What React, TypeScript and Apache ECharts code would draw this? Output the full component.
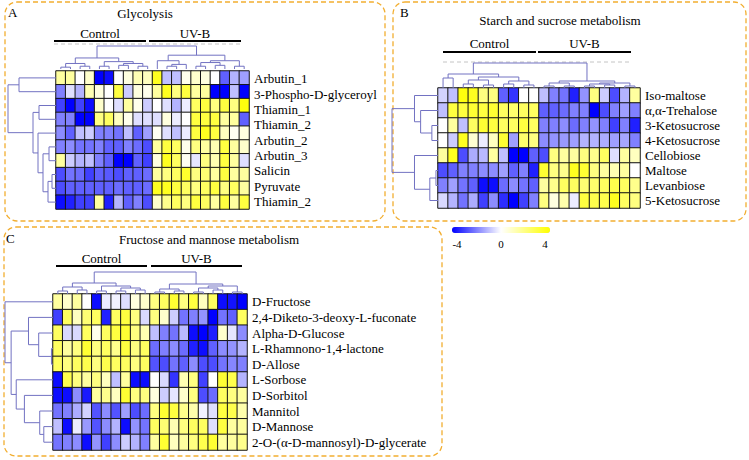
import React, { useEffect, useRef } from "react";
import * as echarts from "echarts";

const FONT = "Liberation Serif, Times New Roman, serif";
const DENDRO = "#7272C2";
const BOX = "#F2AE30";

// ---------- samples ----------
const controlSamples = ["C1", "C2", "C3", "C4", "C5", "C6", "C7", "C8", "C9", "C10"];
const uvbSamples = ["U1", "U2", "U3", "U4", "U5", "U6", "U7", "U8", "U9", "U10"];
const groupNames = ["Control", "UV-B"];

// ---------- legend ----------
const scaleMin = -4;
const scaleMax = 4;
const legendTicks = [-4, 0, 4];

// ---------- A: Glycolysis ----------
const glycolysisLabels = [
  "Arbutin_1", "3-Phospho-D-glyceroyl", "Thiamin_1", "Thiamin_2", "Arbutin_2",
  "Arbutin_3", "Salicin", "Pyruvate", "Thiamin_2",
];
const glycolysisValues = [
  [1.5, 1.5, 0, 0.8, -4, -3.8, 0, 0.5, 1.2, 1, 3.5, -1, -1, 0.3, 0.8, 0.5, 0, -2.5, -1.2, -1.5],
  [-2, -0.5, -1.2, 1.2, 0.5, 0, 3, -0.8, 0.5, 0.3, 1.5, 3.5, 2, 3, 1.5, 1.5, -4, -4, -1, -4],
  [-3, -4, -3, -3.8, 0.8, 0, -0.5, 1.5, 0.3, -0.8, 0, -0.5, -1.2, -0.3, 2.5, 3, 2, 3, 2, 3.8],
  [-2, -2, -4, -4, 2, 2.5, 1, 0.3, -0.5, -0.5, -0.5, 0.5, -0.3, 0, 3, 3, 3, 1.5, 1.5, -2.5],
  [-1.8, -2.5, -1, -0.8, -2, -2, -2.2, -1, -2.5, -1.5, 0.2, -0.5, -1, -0.3, 3, 3.5, 3, 1, 0.2, 0.5],
  [-2, -1.8, -2.2, -2.2, -2, -2.5, -2.5, -2, -2.3, -2.8, 1.5, 3, 2.5, 0.3, 2, 1.5, 1.2, 3, 1.5, 0.8],
  [1.5, -0.8, -1.2, -1, -2, -2.5, -4, -4, -2.5, -3, 0.5, 3.5, 2.5, 0.2, -0.4, 2, 1.2, 3, 1.5, -0.5],
  [-2.8, -2.2, -2.3, -3, -2.5, -2.6, -2.8, -2.5, -2.5, -2.3, 1.5, 2, 2.5, 3.3, 2, 2.2, 1.5, 3, 1.5, 1.5],
  [-2.8, -2.5, -2.5, -2.5, -2.5, -2.5, -2.3, -2.5, -2.5, -2.3, 3.5, 3.5, 3, 2.5, 2, 2.5, 3, 2, 2.5, 1.5],
  [-3.8, -3.5, -3, -3, 1.5, -3.5, -1.2, -2.5, -2, -2.8, 0.8, 1.8, 2.5, 2, 3, 2.5, 1.5, 3, 1.5, 3],
];
// linkage: [childA, childB, height]
const glycolysisRowTree = [
  [0, 1, 37], [2, 3, 17], [7, 8, 4], [12, 9, 8], [5, 6, 7], [14, 13, 13],
  [4, 15, 18], [11, 16, 23], [10, 17, 48],
];
const glycolysisColTree = [
  [0, 1, 2], [2, 3, 3], [20, 21, 6], [4, 5, 3], [6, 7, 4], [8, 9, 3], [24, 25, 6],
  [23, 26, 8], [22, 27, 12],
  [11, 12, 3], [29, 13, 5], [10, 30, 9], [14, 15, 3], [16, 17, 4], [32, 33, 7],
  [18, 19, 3], [34, 35, 9], [31, 36, 15], [28, 37, 25],
];

// ---------- B: Starch and sucrose ----------
const starchLabels = [
  "Iso-maltose", "α,α-Trehalose", "3-Ketosucrose", "4-Ketosucrose",
  "Cellobiose", "Maltose", "Levanbiose", "5-Ketosucrose",
];
const starchValues = [
  [-0.7, -1, 3.8, 3.5, 2, 2, -2.5, -3.2, 0, 0, -1, -2, -2.2, -3.5, -1.7, 2, -0.8, -2.8, -1.2, 1.5],
  [-1, 3, 3, 3.2, 3, 3.2, 2.5, 2.3, 2.5, 2.5, -2.5, -2.5, -2.3, -2, -2, -4, -2.8, -2, -1.5, -2],
  [0, 1.5, -1, 2.5, 3.2, 3, 2.5, 2.5, 3, 2.5, -2, -2, -1.8, -2.3, -2, -1.7, -2, -3, -2, -3.5],
  [0, -0.8, 3.5, 0.7, -0.3, 1, 3.2, -1.5, 2.3, 2, -1.8, -1.7, -1.6, -1.5, -1.2, -1.2, -1.3, -1.5, -1.4, -2],
  [1.5, 3.5, -2.8, -1.3, -1.1, 1.5, -1, -4, -4, -2.5, -2.8, 2, 1.5, 1.5, 2, 1.8, 2.5, -0.5, 1.5, 1],
  [-2.8, -2.5, -2, -2, -1.8, -1.8, -1.5, -2.5, -2, -3.5, 3.2, 2, 1.8, 3.5, 3.2, 2, 1.5, 1.2, 1.5, 0],
  [-2, -1.5, -2.2, -2.5, -3.8, -3.8, -2.3, -1.8, -2.2, -2.5, 1.5, 1.8, 2.5, 2.5, 2.2, 2.3, 2.5, 2.8, 2.5, 1.8],
  [-0.6, -1.2, -2.2, -1.3, -3, -1.8, -3.3, -4, -3, -2, 2, 0.5, 1.3, -0.3, 3, 2.8, 2.8, 3.5, 2.5, 2],
];
const starchRowTree = [
  [2, 3, 6], [1, 8, 17], [0, 9, 23], [5, 6, 2], [11, 7, 8], [4, 12, 23], [10, 13, 45],
];
const starchColTree = [
  [0, 1, 10], [2, 3, 4], [4, 5, 3], [21, 22, 8], [6, 7, 4], [8, 9, 3], [24, 25, 7],
  [23, 26, 11], [20, 27, 14],
  [10, 11, 2], [12, 13, 2], [29, 30, 5], [14, 15, 2], [16, 17, 3], [32, 33, 4],
  [18, 19, 2], [34, 35, 5], [31, 36, 7], [28, 37, 25],
];

// ---------- C: Fructose and mannose ----------
const fructoseLabels = [
  "D-Fructose", "2,4-Diketo-3-deoxy-L-fuconate", "Alpha-D-Glucose", "L-Rhamnono-1,4-lactone",
  "D-Allose", "L-Sorbose", "D-Sorbitol", "Mannitol", "D-Mannose", "2-O-(α-D-mannosyl)-D-glycerate",
];
const fructoseValues = [
  [1.5, 0.8, 1.5, 0, -3.8, -0.3, -0.2, -0.5, 0.5, 0.8, 2, 2.5, 3.2, 2, 3, 1, 2.5, -3.8, -3.7, -4],
  [-3, 2.5, 1, 2.2, 2.5, -3.5, 2.5, 3, 2, -0.6, 2, 0.8, -0.8, -2.2, -2, -1.7, -4, -2.2, -2.5, 2.5],
  [2.5, -0.6, -0.6, 2.5, 0.3, 2.5, 3, 3.2, 2, 1.2, -1, -2, -2.2, -1.1, -3.8, -4, -3.5, 0.8, -0.4, -1.8],
  [2.5, 1.5, 2, 3.2, 2, 2.5, 1.8, 3, 2, 2.5, -2.3, -2, -1.8, -2.3, -3.5, -3.8, -2.5, -1.8, -1.7, -1.2],
  [2.5, 2, 2.5, 2.8, 2, 2.8, 2.5, 2.5, 2, 2.5, -2.7, -2.8, -2.2, -2.5, -1.8, -2.8, -2.8, -2.2, -1.9, -2],
  [-3.8, 2.8, 2, 1.5, 2, 1, -1, 1.5, -3.8, -3.8, 0, -0.6, -3.2, 1.2, 2, -3, 0, 3.2, 2.8, -1.2],
  [-3.8, -3.8, -1.8, -3.6, 1.5, 1.8, 1, 3.2, 2, 2, 0.5, -0.8, -0.4, 0.8, 2, -2.8, -2.3, 2.5, 2, 1.5],
  [-2.2, -2, -1.3, -0.7, -2.7, -1.8, -2.7, -1.5, -2.8, -2.3, 2, 3.2, 3, 1.8, 1.3, -0.2, -0.5, 3, 2.8, 1.3],
  [-1, -3.8, -0.3, -1.6, -2.7, -1.8, -1.2, -3.8, -1.7, -2.2, 2.5, 2.2, 1.2, 2, 2.5, 2.5, -0.5, 3, 1.5, 1.5],
  [-2.2, -2, -1.8, -3.8, -1.7, -3, -1.8, -0.8, -1.2, -2, 1.5, 3.2, 1, 1.5, 2, 2.8, 3.2, 1.5, 1.5, 1.8],
];
const fructoseRowTree = [
  [3, 4, 1.5], [2, 10, 14], [1, 11, 24], [8, 9, 9], [7, 13, 13], [6, 14, 28],
  [5, 15, 36], [12, 16, 41], [0, 17, 47],
];
const fructoseColTree = [
  [0, 1, 3], [2, 3, 4], [20, 21, 7], [4, 5, 3], [6, 7, 3], [8, 9, 4], [24, 25, 6],
  [23, 26, 8], [22, 27, 11],
  [10, 11, 2], [12, 13, 3], [29, 30, 5], [14, 15, 2], [16, 17, 4], [32, 33, 6],
  [18, 19, 2], [34, 35, 8], [31, 36, 10], [28, 37, 22],
];

// ---------- layout (pixels) ----------
const panels = [
  {
    letter: "A", title: "Glycolysis", labels: glycolysisLabels, values: glycolysisValues,
    rowTree: glycolysisRowTree, colTree: glycolysisColTree,
    box: [5, 2, 380, 219], letterPos: [8, 12], titlePos: [145, 13],
    heat: { left: 56, top: 71, width: 193, height: 138 },
    colDendro: { top: 46, height: 23 }, rowDendroLeft: 8,
    groupBar: { x: 54, width: 92, gap: 3, lineY: 41, textY: 33 }, dashY: 44,
  },
  {
    letter: "B", title: "Starch and sucrose metabolism", labels: starchLabels, values: starchValues,
    rowTree: starchRowTree, colTree: starchColTree,
    box: [393, 2, 353, 219], letterPos: [400, 12], titlePos: [560, 20],
    heat: { left: 438, top: 88, width: 202, height: 120 },
    colDendro: { top: 63, height: 25 }, rowDendroLeft: 392,
    groupBar: { x: 443, width: 93, gap: 2, lineY: 52, textY: 43 }, dashY: 62,
  },
  {
    letter: "C", title: "Fructose and mannose metabolism", labels: fructoseLabels, values: fructoseValues,
    rowTree: fructoseRowTree, colTree: fructoseColTree,
    box: [4, 227, 438, 229], letterPos: [6, 238], titlePos: [209, 239],
    heat: { left: 53, top: 294, width: 194, height: 156 },
    colDendro: { top: 272, height: 22 }, rowDendroLeft: 5,
    groupBar: { x: 56, width: 91, gap: 4, lineY: 266, textY: 258 }, dashY: null as number | null,
  },
];

const legendBar = { left: 452, top: 227, length: 98, thickness: 6, inset: 5, labelY: 244 };

function linkSegments(n: number, merges: number[][]) {
  const pos: number[] = Array.from({ length: n }, (_, i) => i);
  const h: number[] = new Array(n).fill(0);
  const segs: number[][] = [];
  merges.forEach(([a, b, hh]) => {
    segs.push([pos[a], h[a], pos[b], h[b], hh]);
    pos.push((pos[a] + pos[b]) / 2);
    h.push(hh);
  });
  return segs;
}

function dendroRender(orient: "col" | "row") {
  return (_params: any, api: any) => {
    const pa = api.value(0), ha = api.value(1), pb = api.value(2), hb = api.value(3), hh = api.value(4);
    const P = (p: number, hg: number) => (orient === "col" ? api.coord([p, hg]) : api.coord([hg, p]));
    return {
      type: "polyline",
      shape: { points: [P(pa, ha), P(pa, hh), P(pb, hh), P(pb, hb)] },
      style: { stroke: DENDRO, fill: null, lineWidth: 1 },
      silent: true,
    };
  };
}

const txt = (size: number) => ({ fontFamily: FONT, fontSize: size, fill: "#000" });

export default function App() {
  const ref = useRef<HTMLDivElement>(null);
  useEffect(() => {
    if (!ref.current) return;
    const chart = echarts.init(ref.current, undefined, { renderer: "svg" });
    const samples = [...controlSamples, ...uvbSamples];
    const grids: any[] = [];
    const xAxes: any[] = [];
    const yAxes: any[] = [];
    const heatSeries: any[] = [];
    const dendroSeries: any[] = [];
    const graphics: any[] = [];

    panels.forEach((p) => {
      const nRows = p.values.length;
      const nCols = samples.length;
      const gHeat = grids.length;
      grids.push({ ...p.heat });
      const xHeat = xAxes.length;
      xAxes.push({ type: "category", gridIndex: gHeat, data: samples, show: false });
      const yHeat = yAxes.length;
      yAxes.push({
        type: "category", gridIndex: gHeat, inverse: true, show: false,
        data: p.values.map((_, i) => "r" + i),
      });
      yAxes.push({
        type: "category", gridIndex: gHeat, inverse: true, position: "right",
        data: p.labels,
        axisLine: { show: false }, axisTick: { show: false }, splitLine: { show: false },
        axisLabel: { fontFamily: FONT, fontSize: 13, color: "#000", margin: 5, interval: 0 },
      });
      heatSeries.push({
        type: "heatmap", xAxisIndex: xHeat, yAxisIndex: yHeat,
        data: p.values.flatMap((row, r) => row.map((v, c) => [c, r, v])),
        itemStyle: { borderColor: "#151515", borderWidth: 1 },
        emphasis: { disabled: true },
      });

      const colSegs = linkSegments(nCols, p.colTree);
      const colMax = Math.max(...p.colTree.map((m) => m[2]));
      const gCol = grids.length;
      grids.push({ left: p.heat.left, width: p.heat.width, top: p.colDendro.top, height: p.colDendro.height });
      const xCol = xAxes.length;
      xAxes.push({ type: "value", gridIndex: gCol, min: -0.5, max: nCols - 0.5, show: false });
      const yCol = yAxes.length;
      yAxes.push({ type: "value", gridIndex: gCol, min: 0, max: colMax, show: false });
      dendroSeries.push({
        type: "custom", xAxisIndex: xCol, yAxisIndex: yCol, clip: false,
        renderItem: dendroRender("col"), data: colSegs,
        encode: { x: [0, 2], y: [1, 3, 4] }, silent: true,
      });

      const rowSegs = linkSegments(nRows, p.rowTree);
      const rowMax = Math.max(...p.rowTree.map((m) => m[2]));
      const gRow = grids.length;
      grids.push({ left: p.rowDendroLeft, width: p.heat.left - p.rowDendroLeft, top: p.heat.top, height: p.heat.height });
      const xRow = xAxes.length;
      xAxes.push({ type: "value", gridIndex: gRow, min: 0, max: rowMax, inverse: true, show: false });
      const yRow = yAxes.length;
      yAxes.push({ type: "value", gridIndex: gRow, min: -0.5, max: nRows - 0.5, inverse: true, show: false });
      dendroSeries.push({
        type: "custom", xAxisIndex: xRow, yAxisIndex: yRow, clip: false,
        renderItem: dendroRender("row"), data: rowSegs,
        encode: { x: [1, 3, 4], y: [0, 2] }, silent: true,
      });

      const [bx, by, bw, bh] = p.box;
      graphics.push({
        type: "rect", z: -10, silent: true,
        shape: { x: bx, y: by, width: bw, height: bh, r: 12 },
        style: { fill: null, stroke: BOX, lineWidth: 1.3, lineDash: [5, 3] },
      });
      graphics.push({
        type: "text", x: p.letterPos[0], y: p.letterPos[1], silent: true,
        style: { text: p.letter, ...txt(13), verticalAlign: "middle" },
      });
      graphics.push({
        type: "text", x: p.titlePos[0], y: p.titlePos[1], silent: true,
        style: { text: p.title, ...txt(13), align: "center", verticalAlign: "middle" },
      });
      groupNames.forEach((g, gi) => {
        const x1 = p.groupBar.x + gi * (p.groupBar.width + p.groupBar.gap);
        const x2 = x1 + p.groupBar.width;
        graphics.push({
          type: "line", silent: true,
          shape: { x1, y1: p.groupBar.lineY, x2, y2: p.groupBar.lineY },
          style: { stroke: "#000", lineWidth: 2 },
        });
        graphics.push({
          type: "text", x: (x1 + x2) / 2, y: p.groupBar.textY, silent: true,
          style: { text: g, ...txt(13), align: "center", verticalAlign: "middle" },
        });
      });
      if (p.dashY !== null) {
        graphics.push({
          type: "line", silent: true,
          shape: {
            x1: p.groupBar.x, y1: p.dashY,
            x2: p.groupBar.x + 2 * p.groupBar.width + p.groupBar.gap, y2: p.dashY,
          },
          style: { stroke: "#c4c4c4", lineWidth: 1, lineDash: [4, 3] },
        });
      }
    });

    legendTicks.forEach((t) => {
      const x = legendBar.left + legendBar.inset +
        ((t - scaleMin) / (scaleMax - scaleMin)) * (legendBar.length - 2 * legendBar.inset);
      graphics.push({
        type: "text", x, y: legendBar.labelY, silent: true,
        style: { text: String(t), ...txt(11), align: "center", verticalAlign: "middle" },
      });
    });

    chart.setOption({
      animation: false,
      textStyle: { fontFamily: FONT },
      grid: grids,
      xAxis: xAxes,
      yAxis: yAxes,
      visualMap: {
        type: "continuous", min: scaleMin, max: scaleMax, seriesIndex: [0, 1, 2],
        orient: "horizontal", left: legendBar.left, top: legendBar.top,
        itemWidth: legendBar.thickness, itemHeight: legendBar.length,
        calculable: false, hoverLink: false, realtime: false, text: null, showLabel: false,
        padding: 0,
        inRange: { color: ["#0000FF", "#FFFFFF", "#FFFF00"] },
      },
      series: [...heatSeries, ...dendroSeries],
      graphic: graphics,
    });
    return () => chart.dispose();
  }, []);
  return (
    <div
      ref={ref}
      style={{ position: "absolute", left: 0, top: 0, width: 749, height: 460, background: "#fff" }}
    />
  );
}
